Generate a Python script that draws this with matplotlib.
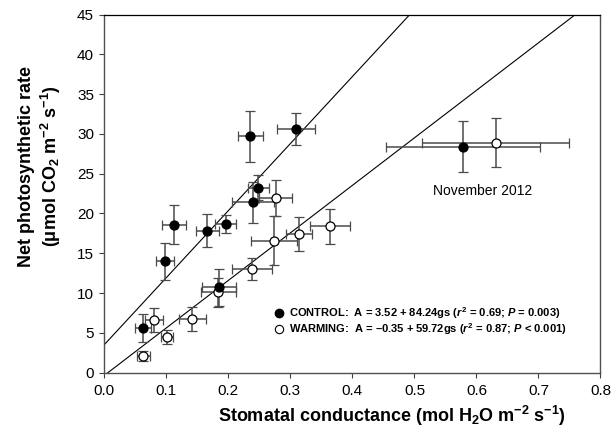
import numpy as np
import matplotlib
matplotlib.use("Agg")
import matplotlib.pyplot as plt
from matplotlib.lines import Line2D

plt.rcParams['font.family'] = ['Liberation Sans', 'DejaVu Sans']
plt.rcParams['mathtext.fontset'] = 'custom'
plt.rcParams['mathtext.rm'] = 'Liberation Sans:bold'
plt.rcParams['mathtext.bf'] = 'Liberation Sans:bold'
plt.rcParams['mathtext.it'] = 'Liberation Sans:italic:bold'

# control (filled symbols)
ctrl_gs = [0.235, 0.309, 0.248, 0.240, 0.196, 0.166, 0.112, 0.098, 0.185, 0.062, 0.578]
ctrl_a = [29.7, 30.6, 23.25, 21.4, 18.7, 17.85, 18.6, 14.0, 10.7, 5.6, 28.4]
ctrl_gs_err = [0.020, 0.031, 0.017, 0.034, 0.017, 0.019, 0.019, 0.015, 0.028, 0.013, 0.124]
ctrl_a_err = [3.2, 2.05, 1.6, 2.6, 1.1, 2.05, 2.45, 2.3, 2.3, 1.8, 3.2]

# warming (open symbols)
warm_gs = [0.276, 0.273, 0.314, 0.364, 0.238, 0.184, 0.142, 0.080, 0.101, 0.063, 0.631]
warm_a = [21.96, 16.6, 17.4, 18.4, 13.0, 10.1, 6.75, 6.66, 4.5, 2.1, 28.9]
warm_gs_err = [0.027, 0.037, 0.021, 0.032, 0.033, 0.028, 0.022, 0.014, 0.010, 0.011, 0.119]
warm_a_err = [2.3, 3.05, 2.1, 2.2, 1.35, 1.8, 1.5, 1.5, 0.9, 0.6, 3.05]

# regression fits
ctrl_fit = (3.52, 84.24)
warm_fit = (-0.35, 59.72)

ctrl_label = r"CONTROL:  A = 3.52 + 84.24gs ($r^2$ = 0.69; $P$ = 0.003)"
warm_label = r"WARMING:  A = –0.35 + 59.72gs ($r^2$ = 0.87; $P$ < 0.001)"

fig = plt.figure(figsize=(6.14, 4.42), dpi=100)
ax = fig.add_axes([0.170, 0.157, 0.808, 0.810])

xs = np.array([0.0, 0.8])
ax.plot(xs, ctrl_fit[0] + ctrl_fit[1] * xs, color='black', lw=0.8, zorder=2)
ax.plot(xs, warm_fit[0] + warm_fit[1] * xs, color='black', lw=0.8, zorder=2)

err_style = dict(fmt='o', ecolor='#4a4a4a', elinewidth=1.1, capsize=3.5,
                 capthick=1.1, ms=6.5, mec='black', mew=0.9, zorder=3)
ax.errorbar(warm_gs, warm_a, xerr=warm_gs_err, yerr=warm_a_err, mfc='white', **err_style)
ax.errorbar(ctrl_gs, ctrl_a, xerr=ctrl_gs_err, yerr=ctrl_a_err, mfc='black', **err_style)

ax.text(0.610, 22.8, "November 2012", fontsize=10, ha='center', va='center')

handles = [Line2D([], [], ls='none', marker='o', ms=6, mfc='black', mec='black'),
           Line2D([], [], ls='none', marker='o', ms=6, mfc='white', mec='black', mew=0.8)]
leg = ax.legend(handles, [ctrl_label, warm_label], loc='upper left',
                bbox_to_anchor=(0.328, 0.203), frameon=False, borderpad=0,
                handletextpad=0.3, handlelength=1.2, labelspacing=0.0,
                prop={'weight': 'bold', 'size': 8})

ax.set_xlim(0, 0.8)
ax.set_ylim(0, 45)
ax.set_xticks(np.arange(0, 0.81, 0.1))
ax.set_xticklabels([f"{v:.1f}" for v in np.arange(0, 0.81, 0.1)])
ax.set_yticks(np.arange(0, 46, 5))
ax.tick_params(direction='out', length=3.5, width=0.8, labelsize=11, color='#404040')
ax.tick_params(axis='x', pad=5)
ax.tick_params(axis='y', pad=4)

for side in ['left', 'bottom', 'right']:
    ax.spines[side].set_color('#505050')
    ax.spines[side].set_linewidth(1.0)
ax.spines['top'].set_color('black')
ax.spines['top'].set_linewidth(0.9)

ax.set_xlabel(r"Stomatal conductance (mol H$_2$O m$^{-2}$ s$^{-1}$)",
              fontsize=13, fontweight='bold')
ax.set_ylabel("Net photosynthetic rate\n" + r"(μmol CO$_2$ m$^{-2}$ s$^{-1}$)",
              fontsize=13, fontweight='bold', linespacing=1.2)
ax.xaxis.set_label_coords(0.58, -0.087)
ax.yaxis.set_label_coords(-0.084, 0.577)

fig.savefig("out.png", dpi=100)
